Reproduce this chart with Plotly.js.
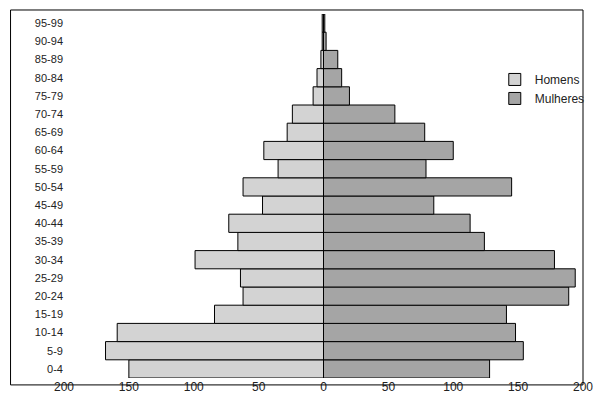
<!DOCTYPE html>
<html>
<head>
<meta charset="utf-8">
<script src="https://cdn.plot.ly/plotly-3.0.1.min.js"></script>
<style>html,body{margin:0;padding:0;background:#fff}</style>
</head>
<body>
<div id="chart" style="width:599px;height:405px"></div>
<script>
var ageGroups = ["0-4","5-9","10-14","15-19","20-24","25-29","30-34","35-39","40-44","45-49",
  "50-54","55-59","60-64","65-69","70-74","75-79","80-84","85-89","90-94","95-99"];
var homens = [150,168,159,84,62,64,99,66,73,47,62,35,46,28,24,8,5,2,1,1];
var mulheres = [128,154,148,141,189,194,178,124,113,85,145,79,100,78,55,20,14,11,2,1];
var tickValues = [-200,-150,-100,-50,0,50,100,150,200];
var tickLabels = ["200","150","100","50","0","50","100","150","200"];

var data = [
  {
    y: ageGroups,
    x: homens.map(function (v) { return -v; }),
    type: "bar",
    orientation: "h",
    name: "Homens",
    marker: { color: "#d3d3d3", line: { color: "#000", width: 1 } },
    hoverinfo: "skip"
  },
  {
    y: ageGroups,
    x: mulheres,
    type: "bar",
    orientation: "h",
    name: "Mulheres",
    marker: { color: "#a5a5a5", line: { color: "#000", width: 1 } },
    hoverinfo: "skip"
  }
];

var layout = {
  width: 599,
  height: 405,
  margin: { l: 64, r: 9, t: 14, b: 27 },
  barmode: "overlay",
  bargap: 0,
  paper_bgcolor: "#fff",
  plot_bgcolor: "#fff",
  font: { family: "Liberation Sans, Arial, sans-serif", size: 12, color: "#222" },
  showlegend: true,
  legend: {
    x: 0.83, y: 0.86, xanchor: "left", yanchor: "top",
    font: { size: 12, color: "#222" },
    bgcolor: "rgba(0,0,0,0)",
    tracegroupgap: 4
  },
  xaxis: {
    range: [-200, 200],
    tickvals: tickValues,
    ticktext: tickLabels,
    showgrid: false,
    zeroline: false,
    showline: false,
    ticks: "",
    tickfont: { size: 12 }
  },
  yaxis: {
    showgrid: false,
    zeroline: false,
    showline: false,
    ticks: "",
    tickfont: { size: 11 },
    automargin: false
  },
  shapes: [
    { type: "rect", xref: "paper", yref: "paper", x0: -0.103, x1: 1, y0: -0.019, y1: 1.011,
      line: { color: "#000", width: 1 } },
    { type: "line", xref: "x", yref: "paper", x0: 0, x1: 0, y0: 0, y1: 1,
      line: { color: "#000", width: 1 } }
  ]
};

Plotly.newPlot("chart", data, layout, { displayModeBar: false, staticPlot: true });
</script>
</body>
</html>
